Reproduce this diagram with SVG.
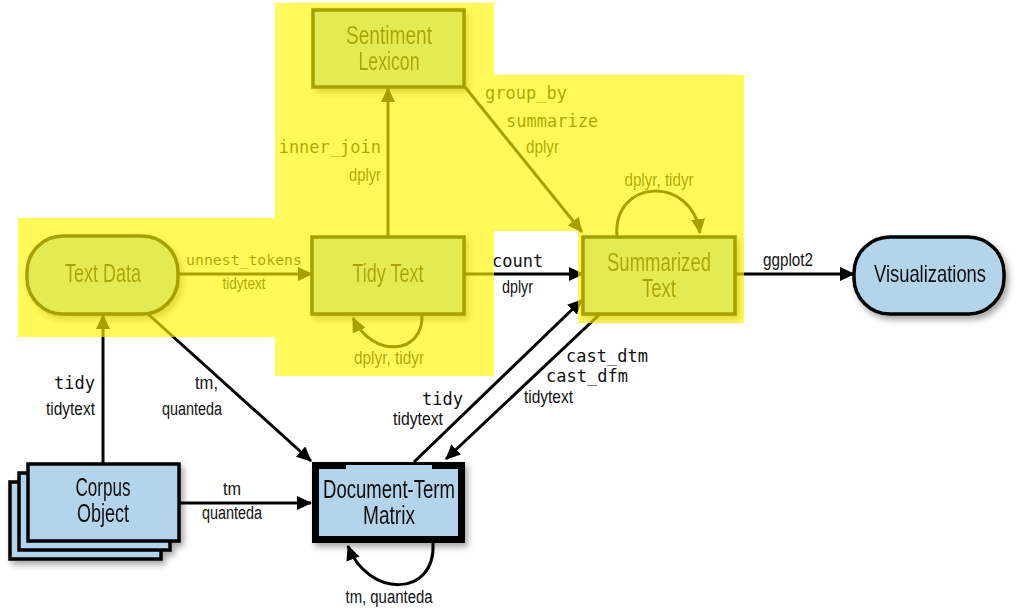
<svg xmlns="http://www.w3.org/2000/svg" width="1024" height="609" viewBox="0 0 1024 609">
<style>
.node{fill:#b3d4ea;stroke:#000;stroke-width:3.5}
.lbl{font-family:"Liberation Sans",Arial,sans-serif;font-size:25px;fill:#111;text-anchor:middle}
.t{font-family:"Liberation Sans",Arial,sans-serif;font-size:18px;fill:#111}
.m{font-family:"DejaVu Sans Mono","Liberation Mono",monospace;font-size:17px;fill:#111}
.e{fill:none;stroke:#000;stroke-width:3;marker-end:url(#ah)}
.c{text-anchor:middle}
.r{text-anchor:end}
</style>
<defs>
<marker id="ah" markerUnits="userSpaceOnUse" markerWidth="16" markerHeight="14" refX="14" refY="7" orient="auto">
<path d="M0,0 L15,7 L0,14 Z" fill="#000"/>
</marker>
<filter id="sh" x="-20%" y="-20%" width="150%" height="160%">
<feDropShadow dx="3" dy="4" stdDeviation="3" flood-color="#000" flood-opacity="0.35"/>
</filter>
</defs>
<rect width="1024" height="609" fill="#fff"/>

<g id="connectors">
<path class="e" d="M178,274 H312"/>
<path class="e" d="M388,237 V88"/>
<path class="e" d="M465,87 L582,232"/>
<path class="e" d="M617,237 C612,178 692,175 700,233"/>
<path class="e" d="M422,314 C424,356 372,358 353,318"/>
<path class="e" d="M464,274 H583"/>
<path class="e" d="M735,274 H854"/>
<path class="e" d="M103,464 V315"/>
<path class="e" d="M148,314 L311,461"/>
<path class="e" d="M179,503 H311"/>
<path class="e" d="M433,543 C436,598 368,598 348,546"/>
<path class="e" d="M414,462 L582,300"/>
<path class="e" d="M600,314 L446,459"/>
<text class="m" x="244" y="265" style="font-size:14.8px" text-anchor="middle">unnest_tokens</text>
<text class="t c" x="244" y="289" textLength="43" lengthAdjust="spacingAndGlyphs" style="font-size:17px">tidytext</text>
<text class="m r" x="381" y="153">inner_join</text>
<text class="t r" x="381" y="181" textLength="32" lengthAdjust="spacingAndGlyphs">dplyr</text>
<text class="m" x="485" y="99">group_by</text>
<text class="m" x="506" y="127">summarize</text>
<text class="t" x="526" y="153" textLength="33" lengthAdjust="spacingAndGlyphs">dplyr</text>
<text class="t c" x="659" y="186" textLength="69" lengthAdjust="spacingAndGlyphs">dplyr, tidyr</text>
<text class="t c" x="389" y="364" textLength="70" lengthAdjust="spacingAndGlyphs">dplyr, tidyr</text>
<text class="m" x="492" y="267">count</text>
<text class="t" x="502" y="293" textLength="31" lengthAdjust="spacingAndGlyphs">dplyr</text>
<text class="t c" x="788" y="266" textLength="50" lengthAdjust="spacingAndGlyphs">ggplot2</text>
<text class="m r" x="95" y="389">tidy</text>
<text class="t r" x="95" y="415" textLength="49" lengthAdjust="spacingAndGlyphs">tidytext</text>
<text class="t r" x="218" y="389" textLength="23" lengthAdjust="spacingAndGlyphs">tm,</text>
<text class="t r" x="222" y="415" textLength="60" lengthAdjust="spacingAndGlyphs">quanteda</text>
<text class="t c" x="232" y="495" textLength="18" lengthAdjust="spacingAndGlyphs">tm</text>
<text class="t c" x="232" y="519" textLength="60" lengthAdjust="spacingAndGlyphs">quanteda</text>
<text class="t c" x="389" y="603" textLength="87" lengthAdjust="spacingAndGlyphs">tm, quanteda</text>
<text class="m r" x="463" y="405">tidy</text>
<text class="t r" x="443" y="425" textLength="50" lengthAdjust="spacingAndGlyphs">tidytext</text>
<text class="m" x="566" y="362">cast_dtm</text>
<text class="m" x="546" y="382">cast_dfm</text>
<text class="t" x="524" y="403" textLength="49" lengthAdjust="spacingAndGlyphs">tidytext</text>
</g>

<g id="text-data" filter="url(#sh)">
<rect class="node" x="27" y="236" width="151" height="78" rx="36"/>
<text class="lbl" x="103" y="282" textLength="76" lengthAdjust="spacingAndGlyphs">Text Data</text>
</g>
<g id="tidy-text" filter="url(#sh)">
<rect class="node" x="312" y="237" width="152" height="77"/>
<text class="lbl" x="388" y="282" textLength="71" lengthAdjust="spacingAndGlyphs">Tidy Text</text>
</g>
<g id="sentiment-lexicon" filter="url(#sh)">
<rect class="node" x="313" y="10" width="151" height="77"/>
<text class="lbl" x="389" y="44" textLength="86" lengthAdjust="spacingAndGlyphs">Sentiment</text>
<text class="lbl" x="389" y="70" textLength="61" lengthAdjust="spacingAndGlyphs">Lexicon</text>
</g>
<g id="summarized-text" filter="url(#sh)">
<rect class="node" x="583" y="237" width="152" height="77"/>
<text class="lbl" x="659" y="271" textLength="104" lengthAdjust="spacingAndGlyphs">Summarized</text>
<text class="lbl" x="659" y="297" textLength="34" lengthAdjust="spacingAndGlyphs">Text</text>
</g>
<g id="visualizations" filter="url(#sh)">
<rect class="node" x="854" y="237" width="150" height="77" rx="36"/>
<text class="lbl" x="930" y="282" textLength="112" lengthAdjust="spacingAndGlyphs" style="font-size:24px">Visualizations</text>
</g>
<g id="corpus-object" filter="url(#sh)">
<rect class="node" x="10" y="482" width="151" height="77"/>
<rect class="node" x="19" y="473" width="151" height="77"/>
<rect class="node" x="28" y="464" width="151" height="77"/>
<text class="lbl" x="103" y="496" textLength="55" lengthAdjust="spacingAndGlyphs">Corpus</text>
<text class="lbl" x="103" y="522" textLength="52" lengthAdjust="spacingAndGlyphs">Object</text>
</g>
<g id="document-term-matrix" filter="url(#sh)">
<rect x="313.5" y="463.5" width="150" height="78" fill="#b3d4ea" stroke="#000" stroke-width="3"/>
<path d="M346,465.5 H315.5 V539.5 H461.5 V465.5 H432" fill="none" stroke="#000" stroke-width="7"/>
<text class="lbl" x="389" y="498" textLength="132" lengthAdjust="spacingAndGlyphs">Document-Term</text>
<text class="lbl" x="389" y="524" textLength="52" lengthAdjust="spacingAndGlyphs">Matrix</text>
</g>

<g id="highlights">
<path d="M18,218 H275 V337 H18 Z M275,3 H494 V376 H275 Z M494,75 H744 V323 H578 V231 H494 Z" fill="#fff700" fill-opacity="0.65"/>
</g>
</svg>
